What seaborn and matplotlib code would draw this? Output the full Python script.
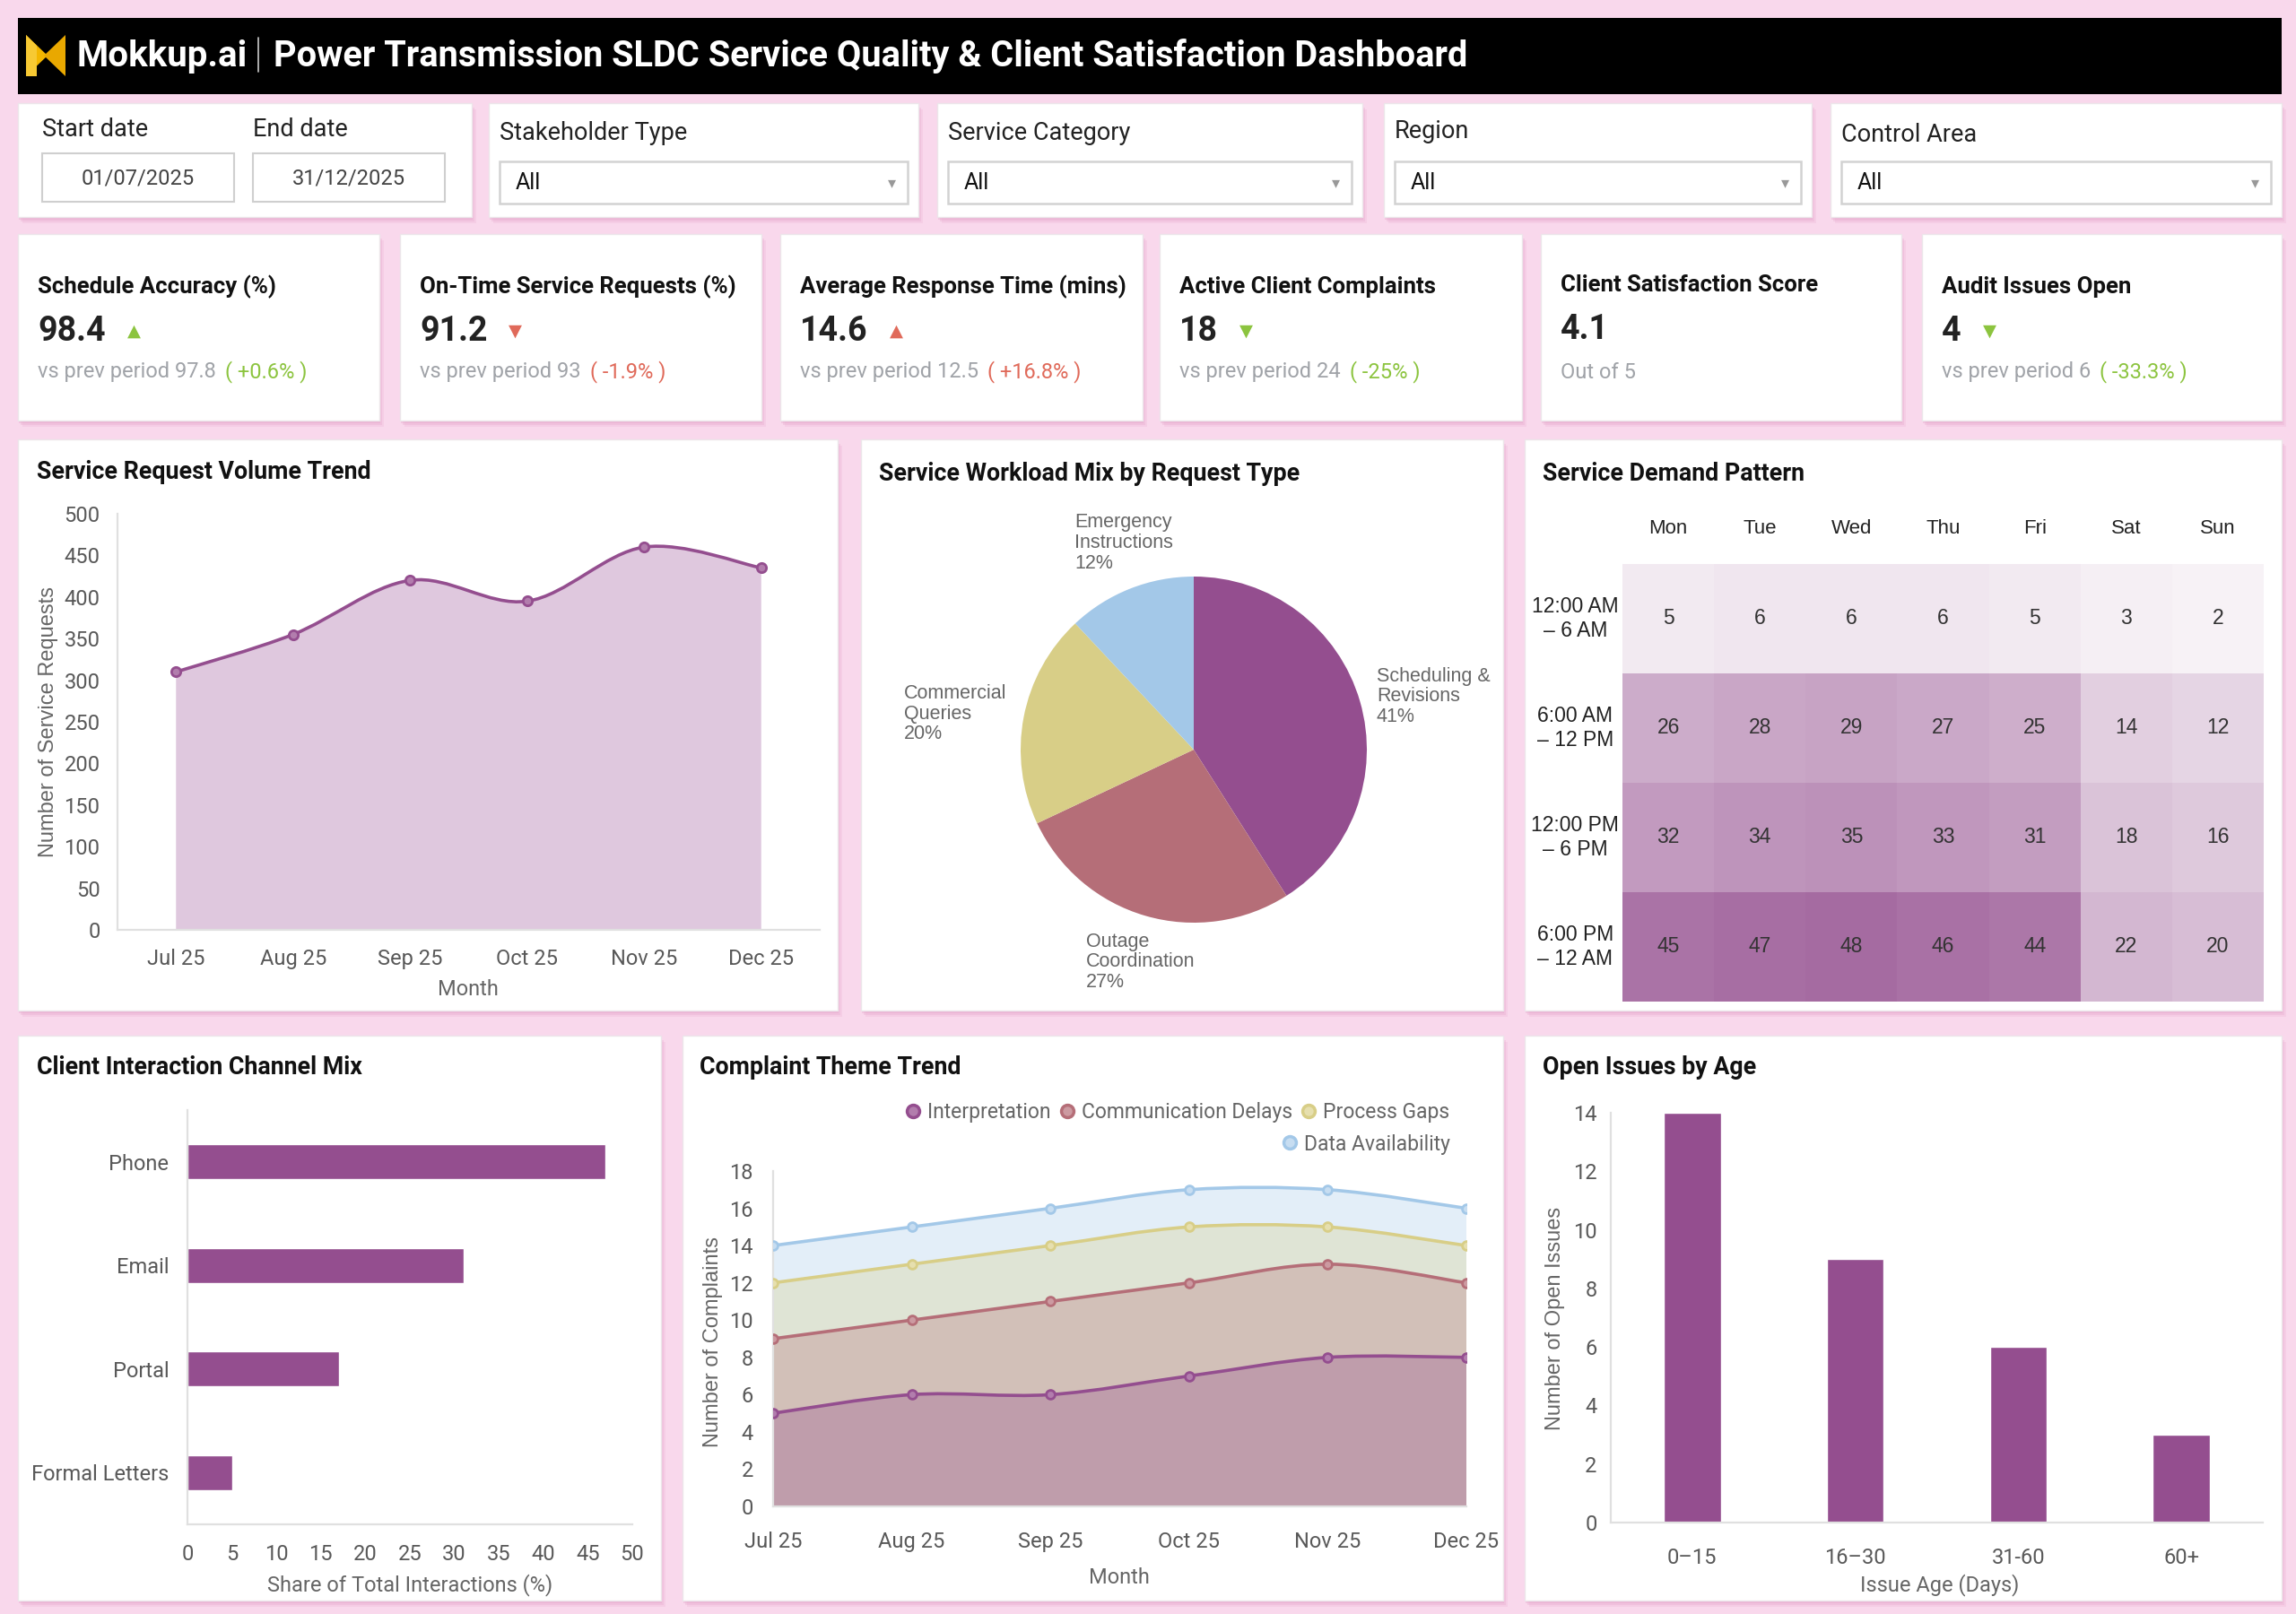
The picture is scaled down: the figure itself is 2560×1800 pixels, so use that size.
import matplotlib
matplotlib.use("Agg")
import matplotlib.pyplot as plt
from matplotlib.patches import Rectangle, Polygon, PathPatch
from matplotlib.path import Path
from matplotlib.lines import Line2D
from matplotlib.colors import LinearSegmentedColormap
import numpy as np
import pandas as pd
import seaborn as sns

# ---- data -----------------------------------------------------------------
months = ["Jul 25", "Aug 25", "Sep 25", "Oct 25", "Nov 25", "Dec 25"]
request_volume = [310, 355, 420, 395, 460, 435]

workload_types = ["Scheduling &\nRevisions", "Outage\nCoordination",
                  "Commercial\nQueries", "Emergency\nInstructions"]
workload_share = [41, 27, 20, 12]

days = ["Mon", "Tue", "Wed", "Thu", "Fri", "Sat", "Sun"]
time_slots = ["12:00 AM\n– 6 AM", "6:00 AM\n– 12 PM", "12:00 PM\n– 6 PM", "6:00 PM\n– 12 AM"]
demand_night = [5, 6, 6, 6, 5, 3, 2]
demand_morning = [26, 28, 29, 27, 25, 14, 12]
demand_afternoon = [32, 34, 35, 33, 31, 18, 16]
demand_evening = [45, 47, 48, 46, 44, 22, 20]

channels = ["Phone", "Email", "Portal", "Formal Letters"]
channel_share = [47, 31, 17, 5]

themes = ["Interpretation", "Communication Delays", "Process Gaps", "Data Availability"]
interpretation = [5, 6, 6, 7, 8, 8]
communication_delays = [4, 4, 5, 5, 5, 4]
process_gaps = [3, 3, 3, 3, 2, 2]
data_availability = [2, 2, 2, 2, 2, 2]

age_buckets = ["0–15", "16–30", "31-60", "60+"]
open_issues = [14, 9, 6, 3]

kpi_titles = ["Schedule Accuracy (%)", "On-Time Service Requests (%)",
              "Average Response Time (mins)", "Active Client Complaints",
              "Client Satisfaction Score", "Audit Issues Open"]
kpi_values = ["98.4", "91.2", "14.6", "18", "4.1", "4"]
kpi_arrows = ["up", "down", "up", "down", None, "down"]
kpi_good = [True, False, False, True, None, True]
kpi_sub = ["vs prev period 97.8", "vs prev period 93", "vs prev period 12.5",
           "vs prev period 24", "Out of 5", "vs prev period 6"]
kpi_change = ["( +0.6% )", "( -1.9% )", "( +16.8% )", "( -25% )", None, "( -33.3% )"]

filter_labels = ["Stakeholder Type", "Service Category", "Region", "Control Area"]
start_date, end_date = "01/07/2025", "31/12/2025"

# ---- style ----------------------------------------------------------------
sns.set_theme(style="white")
plt.rcParams["font.family"] = ["Roboto", "DejaVu Sans"]
ARIAL = ["Liberation Sans", "DejaVu Sans"]

BG = "#f9d8ec"
PURPLE = "#944e8f"
GREEN = "#8cc43f"
RED = "#e06a5a"
TICK = "#595959"

W, H = 2560, 1800
fig = plt.figure(figsize=(W / 100, H / 100), dpi=100)
fig.patch.set_facecolor(BG)

bg = fig.add_axes([0, 0, 1, 1])
bg.set_xlim(0, W)
bg.set_ylim(H, 0)
bg.axis("off")


def axbox(x0, y0, x1, y1):
    return [x0 / W, 1 - y1 / H, (x1 - x0) / W, (y1 - y0) / H]


def panel(x0, y0, x1, y1):
    for k, a in [(7, 0.18), (5, 0.25), (3, 0.35)]:
        bg.add_patch(Rectangle((x0 + k - 2, y0 + k), x1 - x0, y1 - y0,
                               facecolor="#e3a0c8", alpha=a, lw=0))
    bg.add_patch(Rectangle((x0, y0), x1 - x0, y1 - y0, facecolor="white",
                           edgecolor="#ece6ea", lw=1))


def smooth_path(xs, ys):
    n = len(xs)
    verts = [(xs[0], ys[0])]
    codes = [Path.MOVETO]
    for i in range(n - 1):
        x0, y0 = (xs[i - 1], ys[i - 1]) if i > 0 else (xs[i], ys[i])
        x1, y1 = xs[i], ys[i]
        x2, y2 = xs[i + 1], ys[i + 1]
        x3, y3 = (xs[i + 2], ys[i + 2]) if i + 2 < n else (x2, y2)
        verts += [(x1 + (x2 - x0) / 6, y1 + (y2 - y0) / 6),
                  (x2 - (x3 - x1) / 6, y2 - (y3 - y1) / 6),
                  (x2, y2)]
        codes += [Path.CURVE4] * 3
    return verts, codes


def area_patch(xs, ys, **kw):
    v, c = smooth_path(xs, ys)
    v = v + [(xs[-1], 0), (xs[0], 0), (xs[0], ys[0])]
    c = c + [Path.LINETO, Path.LINETO, Path.CLOSEPOLY]
    return PathPatch(Path(v, c), **kw)


def line_patch(xs, ys, **kw):
    v, c = smooth_path(xs, ys)
    return PathPatch(Path(v, c), facecolor="none", **kw)


def style_axes(ax):
    for s in ["top", "right"]:
        ax.spines[s].set_visible(False)
    for s in ["left", "bottom"]:
        ax.spines[s].set_color("#e0e0e0")
        ax.spines[s].set_linewidth(1.6)
    ax.tick_params(length=0, labelsize=17, labelcolor=TICK)
    ax.set_facecolor("white")
    ax.grid(False)


def label_at(ax, box, which, text, px, py):
    x0, y0, x1, y1 = box
    fx = (px - x0) / (x1 - x0)
    fy = (y1 - py) / (y1 - y0)
    if which == "x":
        ax.set_xlabel(text, color="#666666", fontsize=17, va="center")
        ax.xaxis.set_label_coords(fx, fy)
    else:
        ax.set_ylabel(text, color="#666666", fontsize=17, family=ARIAL, va="center")
        ax.yaxis.set_label_coords(fx, fy)


# ---- header ---------------------------------------------------------------
bg.add_patch(Rectangle((20, 20), 2524, 85, facecolor="black", lw=0))
bg.add_patch(Polygon([(29, 39), (53, 62), (29, 85)], closed=True, facecolor="#f3b600", lw=0))
bg.add_patch(Polygon([(73, 39), (49, 62), (73, 85)], closed=True, facecolor="#e9a800", lw=0))
bg.add_patch(Polygon([(29, 39), (41, 51), (41, 85), (29, 85)], closed=True, facecolor="#f7c933", lw=0))
bg.text(85, 63, "Mokkup.ai", color="white", fontsize=29, weight="bold", va="center")
bg.plot([288, 288], [42, 80], color="#cccccc", lw=1.2)
bg.text(305, 63, "Power Transmission SLDC Service Quality & Client Satisfaction Dashboard",
        color="white", fontsize=28.6, weight="bold", va="center")

# ---- filters --------------------------------------------------------------
panel(20, 115, 526, 242)
bg.text(47, 144, "Start date", fontsize=19.5, color="#222", va="center")
bg.text(282, 144, "End date", fontsize=19.5, color="#222", va="center")
for bx, txt in [(47, start_date), (282, end_date)]:
    bg.add_patch(Rectangle((bx, 171), 214, 54, facecolor="white", edgecolor="#cfcfcf", lw=1.5))
    bg.text(bx + 107, 199, txt, fontsize=17, color="#444", ha="center", va="center")

filter_x = [(545, 1024), (1045, 1519), (1543, 2020), (2041, 2544)]
label_y = [149, 149, 147, 150]
for (x0, x1), lab, ly in zip(filter_x, filter_labels, label_y):
    panel(x0, 115, x1, 242)
    bg.text(x0 + 12, ly, lab, fontsize=19.5, color="#222", va="center")
    bg.add_patch(Rectangle((x0 + 12, 180), x1 - x0 - 24, 47, facecolor="white",
                           edgecolor="#d2d2d2", lw=1.8))
    bg.text(x0 + 30, 204, "All", fontsize=18, color="#111", va="center")
    bg.text(x1 - 30, 204, "▾", fontsize=13, color="#999", va="center", ha="center",
            family="DejaVu Sans")

# ---- KPI cards ------------------------------------------------------------
card_x = [(20, 423), (446, 849), (870, 1274), (1293, 1697), (1718, 2120), (2143, 2544)]
for i, (x0, x1) in enumerate(card_x):
    panel(x0, 261, x1, 469)
    tx = x0 + 22
    ty = 318 if kpi_arrows[i] is None else 320
    bg.text(tx, ty, kpi_titles[i], fontsize=18.5, weight="bold", color="#111", va="center")
    vt = bg.text(tx, ty + 49, kpi_values[i], fontsize=27, weight="bold", color="#222",
                 va="center")
    if kpi_arrows[i]:
        col = GREEN if kpi_good[i] else RED
        bg.annotate("▲" if kpi_arrows[i] == "up" else "▼", xy=(1, 0.5), xycoords=vt,
                    xytext=(24, 0), textcoords="offset pixels", ha="left", va="center",
                    fontsize=14, color=col, family="DejaVu Sans")
    st = bg.text(tx, 415, kpi_sub[i], fontsize=17, color="#a0a3a8", va="center")
    if kpi_change[i]:
        col = GREEN if kpi_good[i] else RED
        bg.annotate(kpi_change[i], xy=(1, 0.5), xycoords=st, xytext=(10, 0),
                    textcoords="offset pixels", ha="left", va="center",
                    fontsize=17, color=col)

# ---- chart panels ---------------------------------------------------------
panel(20, 490, 934, 1127)
panel(960, 490, 1676, 1127)
panel(1700, 490, 2544, 1127)
panel(20, 1155, 737, 1785)
panel(761, 1155, 1676, 1785)
panel(1700, 1155, 2544, 1785)

for tx, ty, t in [(41, 526, "Service Request Volume Trend"),
                  (980, 528, "Service Workload Mix by Request Type"),
                  (1720, 528, "Service Demand Pattern"),
                  (41, 1191, "Client Interaction Channel Mix"),
                  (780, 1191, "Complaint Theme Trend"),
                  (1720, 1191, "Open Issues by Age")]:
    bg.text(tx, ty, t, fontsize=19.3, weight="bold", color="#111", va="center")

# service request volume trend
box = (131, 573, 914, 1037)
ax = fig.add_axes(axbox(*box))
xs = np.arange(len(months))
ax.add_patch(area_patch(xs, request_volume, facecolor="#dfc8de", edgecolor="none"))
ax.add_patch(line_patch(xs, request_volume, edgecolor=PURPLE, lw=2.6))
sns.scatterplot(x=xs, y=request_volume, ax=ax, color="#b27dad", edgecolor=PURPLE,
                linewidth=2, s=55, zorder=3)
ax.set_xlim(-0.5, len(months) - 0.5)
ax.set_ylim(0, 500)
ax.set_yticks(range(0, 501, 50))
ax.set_xticks(xs, months)
style_axes(ax)
ax.tick_params(axis="x", pad=15)
ax.tick_params(axis="y", pad=14)
label_at(ax, box, "x", "Month", 522, 1104)
label_at(ax, box, "y", "Number of Service Requests", 54, 805)

# workload pie
cx, cy, r = 1331, 836, 193
ax = fig.add_axes(axbox(cx - r, cy - r, cx + r, cy + r))
pie_colors = ["#944e8f", "#b56e78", "#d8ce87", "#a3c8e8"]
wedges, _ = ax.pie(workload_share, colors=pie_colors, startangle=90, counterclock=False,
                   wedgeprops={"linewidth": 0})
ax.set_xlim(-1, 1)
ax.set_ylim(-1, 1)
for w, lab, val in zip(wedges, workload_types, workload_share):
    ang = np.deg2rad((w.theta1 + w.theta2) / 2)
    c, s = np.cos(ang), np.sin(ang)
    ha = "center" if abs(c) < 0.4 else ("left" if c > 0 else "right")
    va = "bottom" if s > 0.8 else ("top" if s < -0.8 else "center")
    ax.text(1.1 * c, 1.1 * s, f"{lab}\n{val}%", ha=ha, va=va, multialignment="left",
            fontsize=15.5, color="#666666", family=ARIAL, linespacing=1.1, clip_on=False)

# demand heatmap
box = (1809, 629, 2524, 1117)
ax = fig.add_axes(axbox(*box))
demand = pd.DataFrame([demand_night, demand_morning, demand_afternoon, demand_evening],
                      index=time_slots, columns=days)
cmap = LinearSegmentedColormap.from_list("demand", ["#f7f2f6", "#a56ba1"])
sns.heatmap(demand, ax=ax, cmap=cmap, vmin=2, vmax=48, annot=True, fmt="d", cbar=False,
            annot_kws={"fontsize": 16.5, "color": "#333333", "family": ARIAL})
ax.xaxis.tick_top()
ax.set_xticklabels(days, fontsize=16, color="#222", family=ARIAL)
ax.set_yticklabels(time_slots, rotation=0, ha="center", fontsize=16.5, color="#222",
                   family=ARIAL)
ax.tick_params(axis="x", length=0, pad=21)
ax.tick_params(axis="y", length=0, pad=38)
ax.set_xlabel("")
ax.set_ylabel("")

# channel mix
box = (209, 1238, 705, 1700)
ax = fig.add_axes(axbox(*box))
sns.barplot(x=channel_share, y=channels, orient="h", color=PURPLE, saturation=1,
            width=0.34, ax=ax)
ax.set_xlim(0, 50)
ax.set_xticks(range(0, 51, 5))
style_axes(ax)
ax.tick_params(axis="x", pad=16)
ax.tick_params(axis="y", pad=15)
label_at(ax, box, "x", "Share of Total Interactions (%)", 457, 1768)
ax.set_ylabel("")

# complaint theme trend
box = (862, 1306, 1635, 1680)
ax = fig.add_axes(axbox(*box))
series = [interpretation, communication_delays, process_gaps, data_availability]
line_colors = ["#944e8f", "#b56e78", "#d8ce87", "#a3c8e8"]
face_colors = ["#b27dad", "#cc9aa1", "#e6dfae", "#c7ddf1"]
cum = np.cumsum(series, axis=0)
xs = np.arange(len(months))
for i in range(len(series) - 1, -1, -1):
    ax.add_patch(area_patch(xs, cum[i], facecolor=line_colors[i], alpha=0.3, edgecolor="none"))
for i in range(len(series)):
    ax.add_patch(line_patch(xs, cum[i], edgecolor=line_colors[i], lw=2.6, zorder=3))
    sns.scatterplot(x=xs, y=cum[i], ax=ax, color=face_colors[i], edgecolor=line_colors[i],
                    linewidth=2, s=50, zorder=4)
ax.set_xlim(0, len(months) - 1)
ax.set_ylim(0, 18)
ax.set_yticks(range(0, 19, 2))
ax.set_xticks(xs, months)
style_axes(ax)
ax.tick_params(axis="x", pad=20)
ax.tick_params(axis="y", pad=16)
label_at(ax, box, "x", "Month", 1248, 1760)
label_at(ax, box, "y", "Number of Complaints", 795, 1497)
handles = [Line2D([], [], ls="none", marker="o", markersize=10, markeredgewidth=2.5,
                  markerfacecolor=face_colors[i], markeredgecolor=line_colors[i])
           for i in range(len(themes))]
leg_kw = dict(frameon=False, fontsize=16.5, labelcolor="#666666", handletextpad=0.2,
              columnspacing=0.3, borderpad=0, handlelength=1.0, loc="center right")
fig.legend(handles[:3], themes[:3], ncol=3, bbox_to_anchor=(1628 / W, 1 - 1241 / H), **leg_kw)
fig.legend(handles[3:], themes[3:], ncol=1, bbox_to_anchor=(1628 / W, 1 - 1276 / H), **leg_kw)

# open issues by age
box = (1796, 1241, 2523, 1698)
ax = fig.add_axes(axbox(*box))
sns.barplot(x=age_buckets, y=open_issues, color=PURPLE, saturation=1, width=0.35, ax=ax)
ax.set_xlim(-0.5, len(age_buckets) - 0.5)
ax.set_ylim(0, 14)
ax.set_yticks(range(0, 15, 2))
style_axes(ax)
ax.tick_params(axis="x", pad=20)
ax.tick_params(axis="y", pad=11)
label_at(ax, box, "x", "Issue Age (Days)", 2163, 1768)
label_at(ax, box, "y", "Number of Open Issues", 1734, 1470)

fig.savefig("out.png", dpi=100, facecolor=fig.get_facecolor())
